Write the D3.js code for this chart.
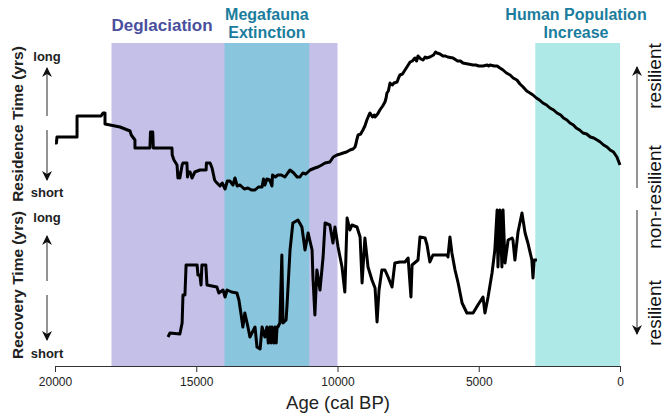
<!DOCTYPE html>
<html>
<head>
<meta charset="utf-8">
<script src="https://cdnjs.cloudflare.com/ajax/libs/d3/7.8.5/d3.min.js"></script>
<style>
  body { margin: 0; background: #fff; }
  svg { display: block; font-family: Arial, "Liberation Sans", sans-serif; }
</style>
</head>
<body>
<div id="chart"></div>
<script>
'use strict';

// x axis ticks (cal BP)
var ageTicks = [20000, 15000, 10000, 5000, 0];

// shaded periods [start, end, label lines]
var periods = [
  { name: 'deglaciation', from: 18000, to: 10000, lines: ['Deglaciation'] },
  { name: 'megafauna', from: 14000, to: 11000, lines: ['Megafauna', 'Extinction'] },
  { name: 'human', from: 3000, to: 0, lines: ['Human Population', 'Increase'] }
];

// residence time, relative index (age, value)
var residence = [
  [20000,52],[19950,52],[19930,58],[19220,58],[19220,79],[18370,79],[18300,82],[18230,82],
  [18230,71],[17875,69],[17700,68],[17520,66],[17345,64],[17300,60],[17170,55],[17170,47],
  [16640,47],[16620,63],[16540,63],[16520,47],[15860,47],[15850,40],[15790,35],[15680,30],
  [15650,17],[15610,22],[15580,17],[15500,30],[15470,32],[15330,32],[15310,18],[15290,23],
  [15220,23],[15150,17],[15050,23],[14870,25],[14650,25],[14640,32],[14510,32],[14440,27],
  [14350,15],[14300,13],[14160,9],[14080,12],[13980,6],[13900,14],[13810,14],[13700,10],
  [13630,17],[13550,9],[13450,10],[13300,6],[13170,7],[13050,5],[12920,5],[12800,8],
  [12670,8],[12620,16],[12570,10],[12500,16],[12400,15],[12320,9],[12300,20],[12200,18],
  [12110,20],[11990,20],[11860,18],[11760,22],[11680,25],[11550,22],[11430,18],[11330,18],
  [11230,22],[11120,21],[10970,25],[10800,27],[10690,28],[10560,30],[10440,32],[10270,33],
  [10150,38],[10020,40],[9900,41],[9800,42],[9680,43],[9560,45],[9450,46],[9380,48],
  [9340,52],[9320,55],[9270,60],[9180,61],[9100,65],[9030,69],[8960,75],[8900,79],
  [8850,82],[8760,78],[8700,80],[8670,78],[8580,81],[8500,85],[8400,89],[8320,93],
  [8280,97],[8250,102],[8200,104],[8140,112],[8060,110],[8000,112],[7890,113],[7840,117],
  [7790,120],[7700,121],[7610,125],[7520,129],[7430,133],[7350,134],[7260,137],[7200,134],
  [7150,139],[7050,136],[6970,135],[6900,138],[6850,137],[6730,138],[6600,140],[6530,143],
  [6480,142],[6370,141],[6270,139],[6180,139],[6100,138],[5910,137],[5750,134],[5650,134],
  [5560,132],[5380,131],[5200,130],[5100,130],[5000,129],[4850,129],[4700,130],[4650,129],
  [4600,130],[4450,129],[4350,129],[4250,127],[4140,125],[4020,122],[3890,120],[3780,117],
  [3650,115],[3540,111],[3430,108],[3300,104],[3190,102],[3080,100],[2960,97],[2850,95],
  [2730,92],[2600,90],[2480,87],[2350,85],[2230,82],[2100,80],[2000,77],[1880,75],
  [1770,72],[1650,70],[1550,67],[1430,65],[1310,62],[1180,61],[1050,58],[930,57],
  [810,55],[700,53],[580,50],[460,48],[350,45],[230,43],[110,38],[0,30]
];

// recovery time, relative index (age, value)
var recovery = [
  [16000,23],[15930,27],[15580,26],[15500,37],[15470,65],[15400,65],[15360,95],[14970,95],
  [14940,85],[14870,85],[14830,75],[14800,95],[14660,95],[14620,75],[14270,73],[14200,67],
  [14050,70],[13980,63],[13910,70],[13750,68],[13560,67],[13490,60],[13420,47],[13350,33],
  [13280,47],[13170,33],[13100,23],[12920,33],[12850,13],[12740,11],[12670,33],[12570,23],
  [12500,33],[12450,17],[12390,33],[12350,17],[12320,33],[12250,17],[12210,33],[12170,17],
  [12140,33],[12110,33],[12040,37],[11970,105],[11930,37],[11820,40],[11790,53],[11680,110],
  [11580,137],[11400,140],[11260,133],[11150,110],[11040,127],[10900,110],[10870,83],[10800,45],
  [10730,90],[10620,70],[10510,103],[10440,137],[10270,135],[10160,117],[10090,133],[9980,113],
  [9840,93],[9740,68],[9660,142],[9560,130],[9490,135],[9310,133],[9200,123],[9130,77],
  [9030,122],[8920,93],[8780,80],[8670,72],[8600,38],[8530,70],[8430,90],[8320,90],
  [8210,83],[8070,73],[7970,97],[7790,98],[7610,98],[7500,102],[7400,63],[7360,95],
  [7150,100],[7080,123],[6900,122],[6830,115],[6730,98],[6620,105],[6120,105],[6090,103],
  [6020,123],[5950,107],[5840,90],[5730,77],[5590,57],[5420,47],[5200,47],[5030,55],
  [4850,63],[4780,47],[4670,63],[4530,87],[4430,110],[4350,150],[4320,93],[4250,150],
  [4180,93],[4140,150],[4070,97],[3960,120],[3820,122],[3790,120],[3720,100],[3610,128],
  [3470,147],[3360,127],[3260,117],[3120,100],[3080,82],[3040,100],[2940,100]
];

var W = 666, H = 416;
var axisY = 366, bandTop = 43;

var svg = d3.select('#chart').append('svg')
  .attr('width', W).attr('height', H);

var x = d3.scaleLinear().domain([20000, 0]).range([55, 620]);
var yRes = d3.scaleLinear().domain([0, 150]).range([195, 45]);
var yRec = d3.scaleLinear().domain([0, 150]).range([360, 210]);

var fills = { deglaciation: '#c4c0e8', megafauna: '#89c6de', human: '#aee9e8' };
var titleColor = { deglaciation: '#4a4f9d', megafauna: '#1b7d9d', human: '#1b7d9d' };

// bands
svg.append('g').selectAll('rect').data(periods).join('rect')
  .attr('x', function (d) { return x(d.from); })
  .attr('width', function (d) { return x(d.to) - x(d.from); })
  .attr('y', bandTop)
  .attr('height', axisY - bandTop)
  .attr('fill', function (d) { return fills[d.name]; });

// band titles
var titles = svg.append('g').attr('font-weight', 'bold').attr('text-anchor', 'middle');
periods.forEach(function (p) {
  var cx = (x(p.from) + x(p.to)) / 2;
  if (p.name === 'deglaciation') cx = 162;
  if (p.name === 'human') cx = 576;
  var one = p.lines.length === 1;
  p.lines.forEach(function (l, i) {
    titles.append('text').attr('x', cx).attr('y', one ? 31 : 20 + i * 18)
      .attr('font-size', one ? 17 : 16)
      .attr('fill', titleColor[p.name]).text(l);
  });
});

// series
var line = function (ys) {
  return d3.line().x(function (d) { return x(d[0]); }).y(function (d) { return ys(d[1]); });
};
svg.append('path').datum(residence).attr('d', line(yRes))
  .attr('fill', 'none').attr('stroke', '#000').attr('stroke-width', 3).attr('stroke-linejoin', 'round');
svg.append('path').datum(recovery).attr('d', line(yRec))
  .attr('fill', 'none').attr('stroke', '#000').attr('stroke-width', 3).attr('stroke-linejoin', 'round');

// x axis
var xAxis = svg.append('g').attr('transform', 'translate(0,' + axisY + ')')
  .call(d3.axisBottom(x).tickValues(ageTicks).tickFormat(d3.format('d')).tickSize(6).tickSizeOuter(0));
xAxis.select('.domain').attr('stroke', '#333').attr('stroke-width', 1.2);
xAxis.selectAll('.tick line').attr('stroke', '#333');
xAxis.selectAll('text').attr('font-size', 12).attr('font-family', 'Arial, "Liberation Sans", sans-serif').attr('fill', '#222').attr('dy', '0.9em');

svg.append('text').attr('x', 338).attr('y', 409).attr('text-anchor', 'middle')
  .attr('font-size', 18.5).attr('fill', '#222').text('Age (cal BP)');

// arrow markers
var defs = svg.append('defs');
defs.append('marker').attr('id', 'ah').attr('viewBox', '0 0 10 10').attr('refX', 9).attr('refY', 5)
  .attr('markerWidth', 10).attr('markerHeight', 10).attr('markerUnits', 'userSpaceOnUse')
  .attr('orient', 'auto')
  .append('path').attr('d', 'M0,0 L10,5 L0,10 L3,5 Z').attr('fill', '#111');

function arrow(x0, y0, y1) {
  svg.append('line').attr('x1', x0).attr('x2', x0).attr('y1', y0).attr('y2', y1)
    .attr('stroke', '#666').attr('stroke-width', 1.4).attr('marker-end', 'url(#ah)');
}

// left side labels
var left = svg.append('g').attr('font-weight', 'bold').attr('fill', '#222');
left.append('text').attr('transform', 'translate(23,124) rotate(-90)').attr('text-anchor', 'middle')
  .attr('font-size', 15.5).text('Residence Time (yrs)');
left.append('text').attr('transform', 'translate(23,285) rotate(-90)').attr('text-anchor', 'middle')
  .attr('font-size', 15.5).text('Recovery Time (yrs)');
[['long', 61], ['short', 197], ['long', 222], ['short', 358]].forEach(function (d) {
  left.append('text').attr('x', 47).attr('y', d[1]).attr('text-anchor', 'middle')
    .attr('font-size', 13).text(d[0]);
});
arrow(47, 116, 68);
arrow(47, 130, 180);
arrow(47, 281, 236);
arrow(47, 295, 340);

// right side labels
arrow(637, 188, 67);
arrow(637, 210, 334);
var right = svg.append('g').attr('font-size', 19).attr('fill', '#111').attr('text-anchor', 'middle');
[['resilient', 76], ['non-resilient', 197], ['resilient', 313]].forEach(function (d) {
  right.append('text').attr('transform', 'translate(661,' + d[1] + ') rotate(-90)').text(d[0]);
});
</script>
</body>
</html>
